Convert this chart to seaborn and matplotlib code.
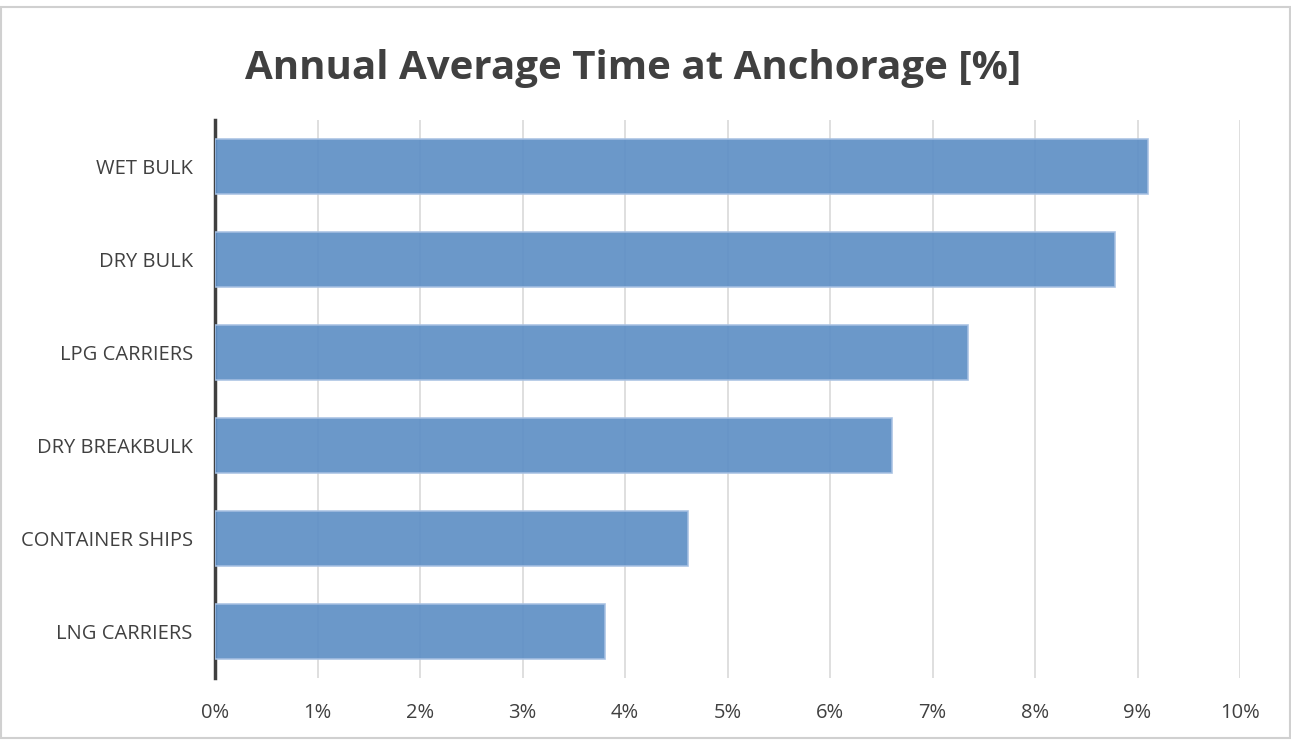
import matplotlib
matplotlib.use("Agg")
import matplotlib.pyplot as plt
import seaborn as sns
import pandas as pd
from matplotlib.patches import Rectangle
from matplotlib.ticker import PercentFormatter, MultipleLocator

categories = ["WET BULK", "DRY BULK", "LPG CARRIERS", "DRY BREAKBULK", "CONTAINER SHIPS", "LNG CARRIERS"]
values = [9.10, 8.78, 7.35, 6.60, 4.61, 3.80]
title = "Annual Average Time at Anchorage [%]"

df = pd.DataFrame({"category": categories, "value": values})

sns.set_theme(style="white")
plt.rcParams["font.family"] = ["Open Sans", "DejaVu Sans"]

fig = plt.figure(figsize=(12.91, 7.41), dpi=100)
ax = fig.add_axes([215/1291, 1-678/741, (1240-215)/1291, (678-120)/741])

sns.barplot(data=df, x="value", y="category", orient="h", ax=ax,
            color="#5E8FC5", alpha=0.92, saturation=1, width=0.59,
            edgecolor="#A6C0E2", linewidth=1.2, zorder=3)

ax.set_xlim(0, 10)
ax.xaxis.set_major_locator(MultipleLocator(1))
ax.xaxis.set_major_formatter(PercentFormatter(decimals=0))
ax.grid(axis="x", color="#D9D9D9", linewidth=1.2, zorder=0)
ax.set_axisbelow(True)
ax.set_xlabel("")
ax.set_ylabel("")
for s in ["top", "right", "bottom"]:
    ax.spines[s].set_visible(False)
ax.spines["left"].set_color("#404040")
ax.spines["left"].set_linewidth(2.5)
ax.tick_params(axis="both", length=0, labelsize=14.5, labelcolor="#404040")
ax.tick_params(axis="x", pad=18)
ax.tick_params(axis="y", pad=16)

fig.text(633/1291, 1-68/741, title, ha="center", va="center", fontsize=29,
         fontweight="bold", color="#404040")

fig.patches.append(Rectangle((0.5/1291, 3/741), 1289/1291, 1-10/741, transform=fig.transFigure,
                             fill=False, edgecolor="#D0D0D0", linewidth=1.5))

fig.savefig("out.png", dpi=100)
